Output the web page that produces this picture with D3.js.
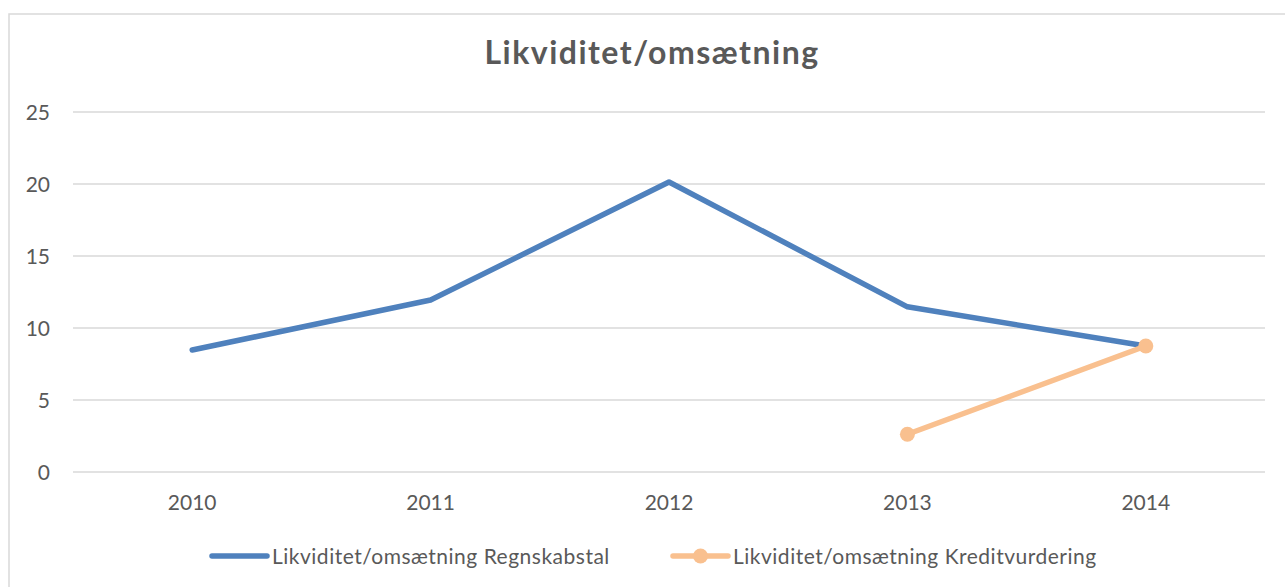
<!DOCTYPE html>
<html>
<head>
<meta charset="utf-8">
<script src="https://cdn.jsdelivr.net/npm/d3@7"></script>
<style>
  body { margin: 0; background: #fff; }
  text { font-family: Lato, "Open Sans", sans-serif; fill: #595959; }
</style>
</head>
<body>
<script>
var years = ["2010", "2011", "2012", "2013", "2014"];
var regnskabstal = [8.47, 11.94, 20.14, 11.47, 8.75];
var kreditvurdering = [null, null, null, 2.62, 8.75];
var yTicks = [0, 5, 10, 15, 20, 25];
var seriesNames = ["Likviditet/omsætning Regnskabstal", "Likviditet/omsætning Kreditvurdering"];
var colors = ["#4f81bd", "#f9c08f"];

function main(){
	var width = 1285, height = 587;
	var svg = d3.select('body').append('svg').attr('width', width).attr('height', height);

	// chart frame
	svg.append('rect')
		.attr('x', 9).attr('y', 14)
		.attr('width', 1290).attr('height', 600)
		.attr('fill', '#fff')
		.attr('stroke', '#d9d9d9').attr('stroke-width', 1.5);

	var x = d3.scaleBand().domain(years).range([73, 1265]);
	var y = d3.scaleLinear().domain([0, 25]).range([472, 112]);

	// grid lines
	svg.append('g').selectAll('line')
		.data(yTicks)
		.enter()
		.append('line')
		.attr('x1', 73).attr('x2', 1265)
		.attr('y1', function(d){ return y(d); })
		.attr('y2', function(d){ return y(d); })
		.attr('stroke', '#d9d9d9').attr('stroke-width', 1.5);

	// y labels
	svg.append('g').selectAll('text')
		.data(yTicks)
		.enter()
		.append('text')
		.attr('x', 50)
		.attr('y', function(d){ return y(d) + 7.5; })
		.attr('text-anchor', 'end')
		.attr('font-size', 21)
		.text(function(d){ return d; });

	// x labels
	svg.append('g').selectAll('text')
		.data(years)
		.enter()
		.append('text')
		.attr('x', function(d){ return x(d) + x.bandwidth() / 2; })
		.attr('y', 510)
		.attr('text-anchor', 'middle')
		.attr('font-size', 21)
		.text(function(d){ return d; });

	var line = d3.line()
		.defined(function(d){ return d.v != null; })
		.x(function(d){ return x(d.year) + x.bandwidth() / 2; })
		.y(function(d){ return y(d.v); });

	var s1 = years.map(function(yr, i){ return {year: yr, v: regnskabstal[i]}; });
	var s2 = years.map(function(yr, i){ return {year: yr, v: kreditvurdering[i]}; });

	svg.append('path').datum(s1)
		.attr('d', line)
		.attr('fill', 'none')
		.attr('stroke', colors[0]).attr('stroke-width', 5.5)
		.attr('stroke-linejoin', 'round').attr('stroke-linecap', 'round');

	svg.append('path').datum(s2)
		.attr('d', line)
		.attr('fill', 'none')
		.attr('stroke', colors[1]).attr('stroke-width', 5.5)
		.attr('stroke-linejoin', 'round').attr('stroke-linecap', 'round');

	svg.append('g').selectAll('circle')
		.data(s2.filter(function(d){ return d.v != null; }))
		.enter()
		.append('circle')
		.attr('cx', function(d){ return x(d.year) + x.bandwidth() / 2; })
		.attr('cy', function(d){ return y(d.v); })
		.attr('r', 7.5)
		.attr('fill', colors[1]);

	// title
	svg.append('text')
		.attr('x', 652).attr('y', 64)
		.attr('text-anchor', 'middle')
		.attr('font-size', 32).attr('font-weight', 'bold')
		.attr('letter-spacing', 1.5)
		.text('Likviditet/omsætning');

	// legend
	var legendX = [212, 673];
	var lg = svg.append('g').selectAll('g')
		.data(seriesNames)
		.enter()
		.append('g')
		.attr('transform', function(d, i){ return 'translate(' + legendX[i] + ',556)'; });
	lg.append('line')
		.attr('x1', 0).attr('x2', 55)
		.attr('stroke', function(d, i){ return colors[i]; })
		.attr('stroke-width', 5.5).attr('stroke-linecap', 'round');
	lg.filter(function(d, i){ return i == 1; })
		.append('circle').attr('cx', 27.5).attr('r', 7.5).attr('fill', colors[1]);
	lg.append('text')
		.attr('x', 60).attr('y', 7.5)
		.attr('font-size', 21)
		.attr('letter-spacing', 0.5)
		.text(function(d){ return d; });
}

main();
</script>
</body>
</html>
